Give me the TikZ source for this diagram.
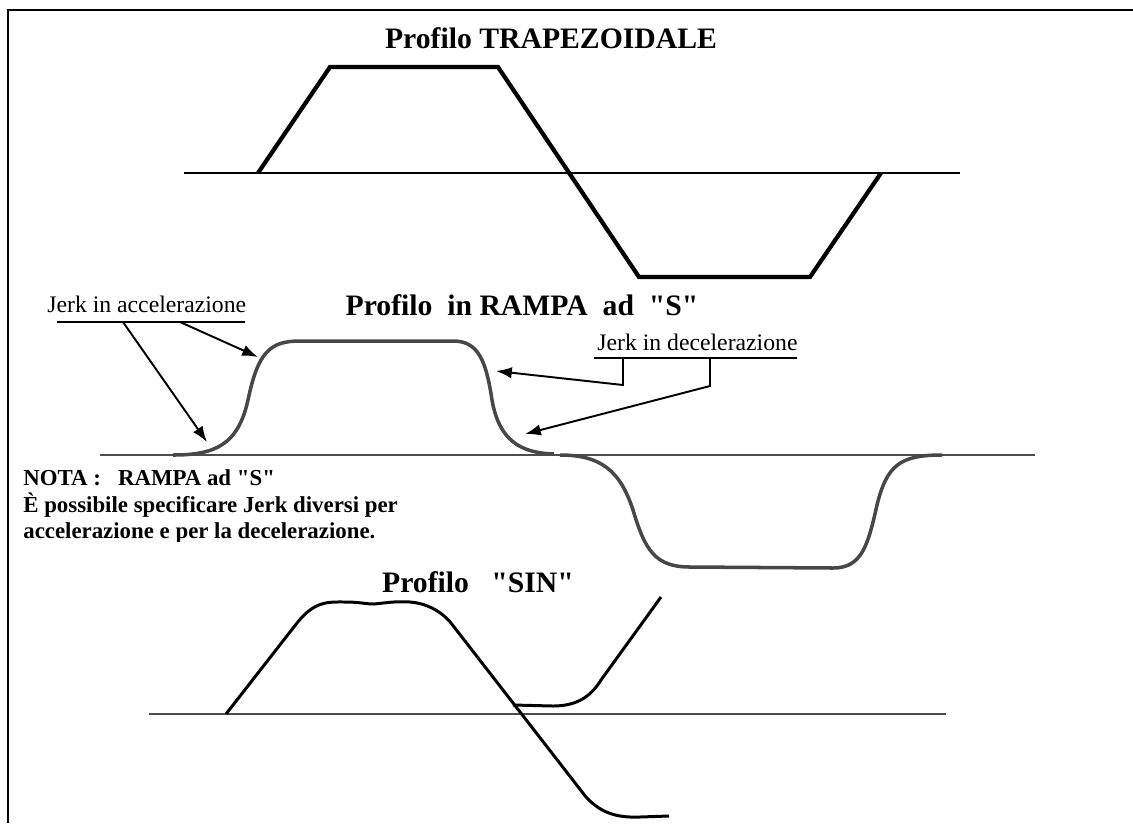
\documentclass[tikz,border=0pt]{standalone}
\usepackage{fontspec}
\setmainfont{Liberation Serif}
\usetikzlibrary{arrows.meta}
\newcommand{\dq}{\textquotedbl}

\begin{document}
\begin{tikzpicture}[x = 0.02cm, y = -0.02cm,
    title/.style = {anchor = base, inner sep = 0pt, font = \fontsize{16.9}{20}\selectfont\bfseries},
    jerklabel/.style = {anchor = base west, inner sep = 0pt, font = \fontsize{13.5}{16}\selectfont},
    notaline/.style = {anchor = base west, inner sep = 0pt, font = \fontsize{13}{15}\selectfont\bfseries},
    axis/.style = {draw = black!70, line width = 0.85pt},
    trapline/.style = {line width = 2.4pt, line join = miter},
    sline/.style = {draw = black!72, line width = 2pt},
    sinline/.style = {line width = 1.7pt},
    jerkarrow/.style = {line width = 1.1pt, -{Latex[length = 9pt, width = 6.5pt]}}]
    \useasboundingbox (0,0) rectangle (1133,823);
    % frame
    \draw[line width = 1.4pt] (8,823) -- (8,10) -- (1133,10);

    % trapezoidal profile
    \node[title] (trap) at (551,48) {Profilo TRAPEZOIDALE};
    \draw[axis, draw = black] (184,173) -- (960,173);
    \draw[trapline] (258,173) -- (330,67) -- (498,67) -- (639,277) -- (810,277) -- (881,173);

    % S ramp profile
    \node[title] (rampa) at (522,315) {Profilo\ \ in RAMPA\ \ ad\ \ \dq S\dq};
    \draw[axis] (100,455) -- (1035,455);
    \draw[sline] (173,455) .. controls (215,455) and (238,445) .. (248,400)
        .. controls (258,352) and (270,341) .. (300,341) -- (453,341)
        .. controls (478,341) and (486,360) .. (492,400)
        .. controls (499,440) and (520,453) .. (554,454);
    \draw[sline] (560,455) .. controls (600,455) and (620,470) .. (633,510)
        .. controls (645,550) and (655,567) .. (690,567) -- (833,568)
        .. controls (862,568) and (868,545) .. (877,505)
        .. controls (887,465) and (900,455) .. (942,455);

    % jerk labels
    \node[jerklabel] (jacc) at (47,312) {Jerk in accelerazione};
    \node[jerklabel] (jdec) at (597,350) {Jerk in decelerazione};
    \coordinate (ua) at (57,322);
    \coordinate (ub) at (245,322);
    \coordinate (uc) at (594,358);
    \coordinate (ud) at (797,358);
    \draw[line width = 1.1pt] (ua) -- (ub);
    \draw[line width = 1.1pt] (uc) -- (ud);
    \coordinate (acc1) at (123,322);
    \coordinate (acc2) at (180,322);
    \coordinate (dec1) at (623,358);
    \coordinate (dec2) at (710,358);
    \coordinate (tip1) at (207,442);
    \coordinate (tip2) at (258,357);
    \coordinate (tip3) at (496,371);
    \coordinate (tip4) at (525,434);
    \draw[jerkarrow] (acc1) -- (tip1);
    \draw[jerkarrow] (acc2) -- (tip2);
    \draw[jerkarrow] (dec1) -- ++(0,27) -- (tip3);
    \draw[jerkarrow] (dec2) -- ++(0,28) -- (tip4);

    % note
    \begin{scope}
        \clip (8,460) rectangle (560,541);
        \node[notaline] (nota1) at (23,485) {NOTA :\ \ \ RAMPA ad \dq S\dq};
        \node[notaline] (nota2) at (23,512) {È possibile specificare Jerk diversi per};
        \node[notaline] (nota3) at (23,538) {accelerazione e per la decelerazione.};
    \end{scope}

    % sin profile
    \node[title] (sin) at (478,592) {Profilo\ \ \ \dq SIN\dq};
    \draw[axis] (149,714) -- (946,714);
    \draw[sinline] (226,714) -- (297,623) .. controls (315,600) and (330,602) .. (345,602)
        .. controls (360,602) and (365,604) .. (374,604)
        .. controls (385,603) and (395,601) .. (410,602)
        .. controls (425,603) and (440,610) .. (451,623) -- (586,797)
        .. controls (600,812) and (615,818) .. (640,817) -- (669,816);
    \draw[sinline] (513,705) -- (553,706) .. controls (575,706) and (590,698) .. (601,680)
        -- (661,597);
\end{tikzpicture}
\end{document}
